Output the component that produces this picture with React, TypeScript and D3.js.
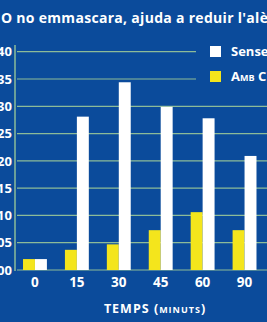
import React, { useRef, useEffect } from "react";
import * as d3 from "d3";

// minutes after treatment
const times = ["0", "15", "30", "45", "60", "90"];
// white bars
const senseValues = [0.02, 0.281, 0.344, 0.299, 0.278, 0.209];
// yellow bars
const ambValues = [0.02, 0.037, 0.047, 0.073, 0.106, 0.073];
const yTicks = [0, 0.05, 0.1, 0.15, 0.2, 0.25, 0.3, 0.35, 0.4];
const legendLabels = ["Sense CPC", "Amb CPC"];

const App = () => {
    const ref = useRef(null);

    const width = 267;
    const height = 322;
    const bg = "#0b4b9b";
    const grid = "#8dbb98";
    const yellow = "#f4e51c";
    const font = "'Open Sans', 'DejaVu Sans', sans-serif";

    useEffect(() => {
        const svg = d3.select(ref.current);
        svg.selectAll("*").remove();

        svg.append("rect")
            .attr("width", width)
            .attr("height", height)
            .attr("fill", bg);

        const x = d3.scaleBand()
            .domain(times)
            .range([14, 265.5])
            .paddingInner(0.43)
            .paddingOuter(0.215);

        const xSub = d3.scaleBand()
            .domain(["amb", "sense"])
            .range([0, x.bandwidth()]);

        const y = d3.scaleLinear()
            .domain([0, 0.4])
            .range([270, 51.7]);

        // grid lines
        svg.append("g")
            .selectAll("line")
            .data(yTicks)
            .join("line")
            .attr("x1", 17)
            .attr("x2", width)
            .attr("y1", (d) => y(d))
            .attr("y2", (d) => y(d))
            .attr("stroke", grid)
            .attr("stroke-width", 1.2);

        // y axis line
        svg.append("line")
            .attr("x1", 15)
            .attr("x2", 15)
            .attr("y1", 45)
            .attr("y2", 271)
            .attr("stroke", grid)
            .attr("stroke-width", 1.5);

        // y tick labels, mostly cut off at the left
        svg.append("g")
            .selectAll("text")
            .data(yTicks)
            .join("text")
            .attr("x", 12)
            .attr("y", (d) => y(d))
            .attr("dy", "0.36em")
            .attr("text-anchor", "end")
            .attr("fill", "#fff")
            .style("font-family", font)
            .style("font-weight", "bold")
            .style("font-size", "13px")
            .text((d) => d3.format(".2f")(d).replace(".", ","));

        // bars
        const groups = svg.append("g")
            .selectAll("g")
            .data(times)
            .join("g")
            .attr("transform", (d) => "translate(" + x(d) + ",0)");

        groups.append("rect")
            .attr("x", xSub("amb"))
            .attr("width", xSub.bandwidth())
            .attr("y", (d, i) => y(ambValues[i]))
            .attr("height", (d, i) => y(0) - y(ambValues[i]))
            .attr("fill", yellow);

        groups.append("rect")
            .attr("x", xSub("sense"))
            .attr("width", xSub.bandwidth())
            .attr("y", (d, i) => y(senseValues[i]))
            .attr("height", (d, i) => y(0) - y(senseValues[i]))
            .attr("fill", "#fff");

        // x labels
        svg.append("g")
            .selectAll("text")
            .data(times)
            .join("text")
            .attr("x", (d) => x(d) + x.bandwidth() / 2)
            .attr("y", 287)
            .attr("text-anchor", "middle")
            .attr("fill", "#fff")
            .style("font-family", font)
            .style("font-weight", "bold")
            .style("font-size", "13.5px")
            .text((d) => d);

        const xTitle = svg.append("text")
            .attr("x", 155)
            .attr("y", 313)
            .attr("text-anchor", "middle")
            .attr("fill", "#fff")
            .style("font-family", font)
            .style("font-weight", "bold")
            .style("font-size", "12.5px")
            .style("letter-spacing", "1px");
        xTitle.append("tspan").text("TEMPS ");
        xTitle.append("tspan").style("font-variant", "small-caps").text("(minuts)");

        // title, cut at both sides
        svg.append("text")
            .attr("x", -4)
            .attr("y", 23)
            .attr("fill", "#fff")
            .style("font-family", font)
            .style("font-weight", "bold")
            .style("font-size", "14px")
            .style("letter-spacing", "0.3px")
            .text("IO no emmascara, ajuda a reduir l'alè");

        // legend box hides the grid lines
        svg.append("rect")
            .attr("x", 196)
            .attr("y", 38)
            .attr("width", 80)
            .attr("height", 57)
            .attr("fill", bg);

        const legend = svg.append("g")
            .selectAll("g")
            .data(legendLabels)
            .join("g")
            .attr("transform", (d, i) => "translate(210," + (46 + i * 25) + ")");

        legend.append("rect")
            .attr("width", 11)
            .attr("height", 11)
            .attr("fill", (d, i) => (i === 0 ? "#fff" : yellow));

        legend.append("text")
            .attr("x", 21)
            .attr("y", 10)
            .attr("fill", "#fff")
            .style("font-family", font)
            .style("font-weight", "bold")
            .style("font-size", "13px")
            .style("font-variant", (d, i) => (i === 1 ? "small-caps" : "normal"))
            .text((d) => d);
    }, []);

    return (
        <svg
            ref={ref}
            width={width}
            height={height}
            style={{ position: "absolute", left: 0, top: 0 }}
        />
    );
};

export default App;
